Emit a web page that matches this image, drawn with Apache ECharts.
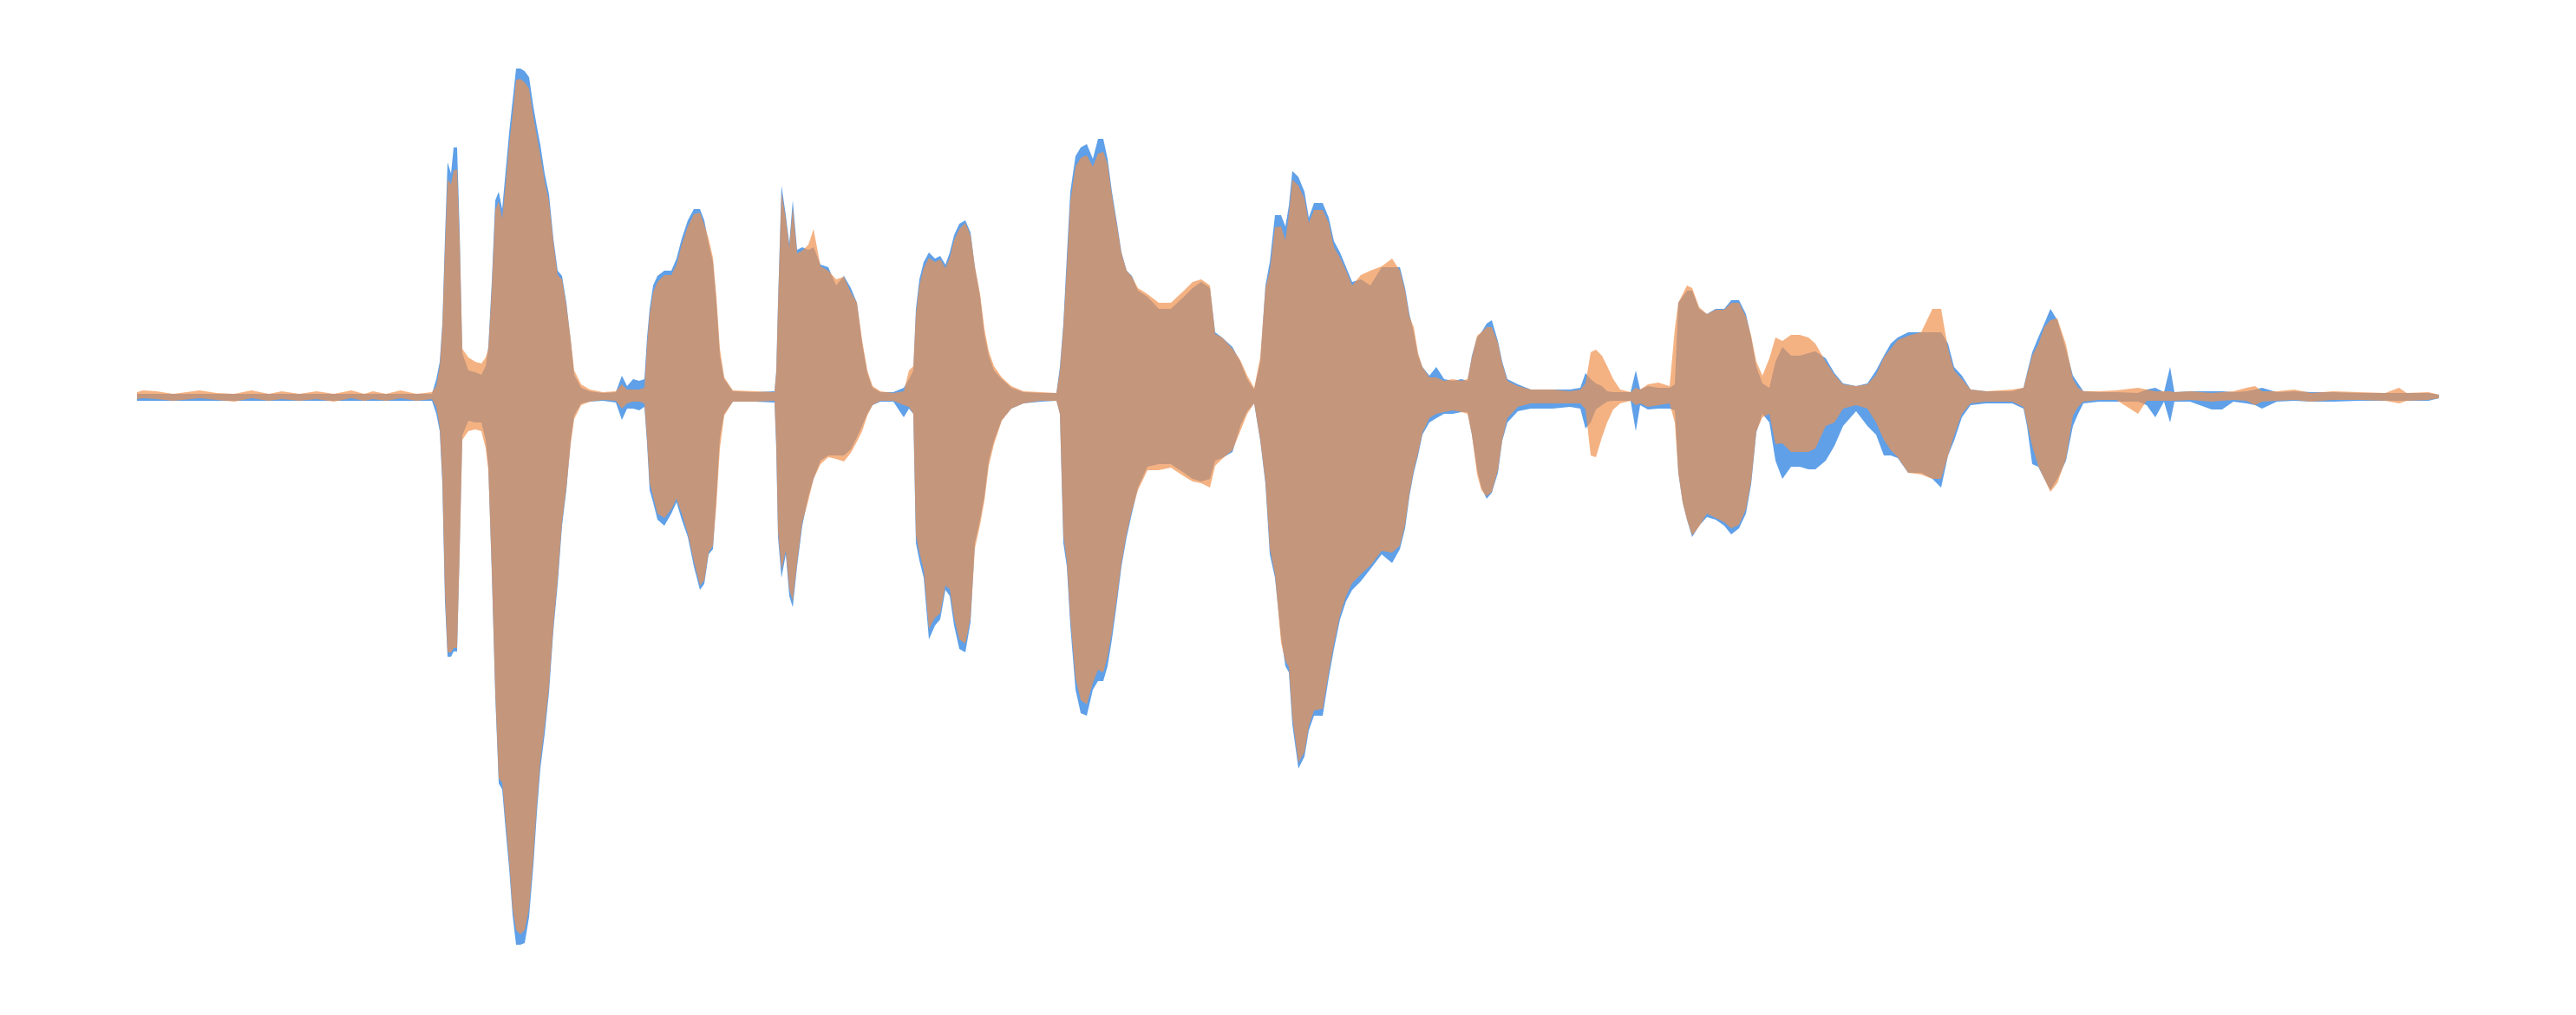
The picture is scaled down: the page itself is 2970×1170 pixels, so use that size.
<!DOCTYPE html>
<html>
<head>
<meta charset="utf-8">
<script src="https://cdn.jsdelivr.net/npm/echarts@6/dist/echarts.min.js"></script>
<style>
html,body{margin:0;padding:0;background:#ffffff;}
#chart{width:2970px;height:1170px;}
</style>
</head>
<body>
<div id="chart"></div>
<script>
// Time positions (frames) of the envelope samples
const frames = [
0,7,22,42,72,92,112,132,152,167,187,207,227,247,262,272,287,304,322,340,
345,349,352,355,358,362,365,369,372,375,382,390,397,402,405,409,413,417,421,425,429,433,437,442,447,452,457,461,465,470,475,480,485,490,495,500,504,512,522,537,552,559,565,572,579,585,
588,591,595,600,608,616,622,628,635,642,649,654,659,664,668,672,677,687,712,735,
737,739,743,748,752,756,761,767,774,780,788,797,806,815,823,830,836,842,848,857,872,884,890,895,
898,902,907,913,920,926,932,937,942,948,955,961,966,972,977,982,988,997,1008,1022,1042,1060,
1064,1068,1072,1076,1082,1088,1095,1102,1108,1114,1119,1124,1130,1135,1141,1147,1154,1165,1178,1192,1207,1217,1227,1237,1243,1251,1263,1272,1280,1288,
1295,1301,1306,1312,1319,1324,1328,1332,1339,1346,1351,1357,1367,1374,1380,1387,1394,1401,1411,1422,1435,1447,1456,1462,1467,1472,1477,1482,1490,1498,1507,1517,1527,1534,
1539,1545,1550,1556,1562,1569,1574,1580,1592,1607,1632,1652,1664,1670,1676,1682,1689,1695,1702,1710,1722,1728,1733,1742,1754,1767,
1773,1777,1782,1787,1793,1801,1810,1820,1830,1838,1847,1855,1861,1867,1874,1882,1889,1897,1907,1917,1927,1935,1947,1957,1967,1982,1995,2005,2014,2022,2030,2042,2057,2070,2080,2088,2095,2104,2114,2132,2162,2175,
2179,2185,2192,2199,2206,2214,2224,2232,2238,2244,2262,2282,2307,2317,2327,2337,2344,2349,2367,2392,2404,2417,2432,2442,2450,2467,2487,2507,2532,2562,2592,2608,2617,2642,2654
];

// Channel 1 (blue) envelope
const blueUpper = [
3,3,3,3,3,3,3,3,3,3,3,3,3,3,3,3,3,3,3,3,
20,40,84,182,270,257,287,287,189,50,30,28,25,35,57,132,226,236,216,260,304,341,378,378,375,368,334,311,290,257,233,182,145,139,108,64,25,10,6,4,5,24,12,20,18,20,
68,101,128,139,145,145,159,182,203,216,216,203,176,155,108,47,20,6,5,6,
30,108,243,209,176,226,169,172,169,172,152,149,128,139,125,108,61,27,10,5,5,10,20,30,
101,135,155,166,159,162,152,166,186,199,203,189,149,115,71,47,30,20,10,5,4,4,
34,84,162,236,277,287,291,274,297,297,274,236,199,166,145,139,122,115,101,101,115,125,132,125,74,68,57,40,20,8,
40,128,155,209,209,196,220,260,253,236,206,223,223,206,179,166,149,132,135,128,149,149,149,125,95,74,47,34,24,34,20,18,20,18,
47,68,74,84,88,64,40,20,14,8,8,8,10,27,20,15,12,6,5,5,5,30,8,12,10,10,
14,108,115,122,122,101,95,101,101,111,111,95,68,34,15,10,40,57,47,47,50,52,44,27,15,12,15,30,47,61,68,74,74,74,74,61,34,24,8,6,6,10,
27,51,68,84,101,88,54,24,15,6,5,5,4,8,10,5,34,5,6,6,6,5,6,8,10,5,6,5,5,4,4,4,4,4,2
];
const blueLower = [
-5,-5,-5,-5,-5,-5,-5,-5,-5,-5,-5,-5,-5,-5,-5,-5,-5,-5,-5,-5,
-20,-40,-101,-236,-300,-300,-294,-294,-176,-45,-28,-30,-30,-50,-81,-203,-345,-446,-453,-500,-544,-598,-632,-632,-630,-600,-540,-480,-429,-389,-341,-270,-216,-149,-108,-51,-22,-8,-6,-5,-7,-27,-14,-14,-16,-12,
-54,-108,-122,-142,-149,-135,-122,-142,-162,-196,-223,-216,-182,-176,-115,-47,-20,-6,-6,-7,
-61,-162,-209,-182,-230,-243,-196,-149,-115,-95,-74,-68,-68,-68,-61,-47,-34,-20,-10,-6,-6,-24,-14,-20,
-169,-189,-209,-280,-264,-257,-223,-230,-264,-291,-295,-260,-169,-142,-115,-74,-51,-27,-14,-8,-6,-5,
-20,-169,-196,-264,-338,-365,-368,-338,-328,-328,-311,-280,-236,-196,-162,-135,-105,-81,-78,-78,-88,-95,-98,-95,-74,-71,-64,-34,-17,-8,
-51,-101,-182,-209,-277,-311,-318,-378,-429,-415,-385,-368,-368,-324,-291,-257,-236,-223,-213,-199,-182,-192,-176,-152,-115,-88,-68,-44,-30,-25,-20,-20,-18,-18,
-44,-84,-105,-118,-111,-88,-51,-30,-17,-14,-14,-12,-14,-37,-30,-15,-10,-6,-5,-5,-5,-40,-10,-15,-14,-14,
-16,-88,-122,-142,-162,-149,-139,-142,-149,-159,-152,-135,-101,-41,-20,-30,-74,-95,-81,-81,-84,-84,-74,-57,-34,-17,-34,-44,-68,-68,-71,-88,-88,-95,-105,-68,-51,-24,-10,-8,-8,-14,
-34,-78,-81,-95,-108,-95,-74,-34,-20,-8,-6,-6,-6,-10,-24,-6,-30,-6,-6,-15,-15,-6,-8,-10,-14,-6,-5,-6,-6,-5,-5,-5,-5,-5,-2
];

// Channel 2 (orange) envelope
const orangeUpper = [
5,7,6,3,7,4,3,7,3,6,3,6,3,7,3,6,3,7,3,5,
12,35,80,170,250,245,260,262,180,55,45,40,38,45,55,125,215,225,205,245,290,325,365,366,362,355,322,300,278,248,225,178,140,135,105,66,30,14,8,5,6,14,8,8,8,10,
60,95,120,132,140,140,152,175,196,210,212,198,182,160,115,55,22,7,6,5,
28,105,235,205,172,218,165,168,175,193,150,145,135,138,120,108,65,30,12,6,4,6,30,35,
95,128,148,160,155,158,148,160,180,193,200,186,150,118,78,52,35,22,12,6,5,4,
30,80,150,225,265,275,278,265,280,282,268,232,196,165,145,138,125,118,108,108,122,132,135,128,72,68,55,42,24,10,
45,125,145,195,196,180,210,250,243,228,200,215,215,200,172,160,145,128,140,145,150,159,145,122,92,80,50,34,22,22,18,20,18,20,
45,70,74,80,80,62,38,18,12,8,8,6,8,15,51,54,47,35,20,8,5,10,8,14,16,12,
78,108,118,128,125,103,95,100,100,108,108,92,70,40,24,44,68,64,71,71,68,61,40,25,14,12,14,25,45,55,65,70,74,101,101,55,30,20,8,6,8,10,
25,47,60,80,88,90,60,20,10,6,6,7,10,8,6,6,6,5,6,4,5,6,10,12,6,6,8,4,6,5,4,10,4,5,2
];
const orangeLower = [
-3,-2,-3,-5,-2,-4,-6,-2,-5,-3,-5,-3,-6,-2,-5,-3,-5,-2,-5,-3,
-12,-35,-95,-225,-295,-295,-290,-290,-180,-50,-40,-38,-40,-60,-85,-200,-340,-440,-445,-490,-535,-590,-615,-620,-615,-590,-530,-470,-420,-380,-335,-265,-210,-145,-105,-55,-26,-10,-6,-4,-5,-14,-8,-6,-6,-8,
-50,-100,-115,-135,-140,-130,-118,-135,-158,-190,-218,-212,-180,-172,-125,-60,-22,-6,-6,-5,
-55,-155,-200,-178,-222,-236,-192,-145,-120,-95,-78,-70,-72,-75,-65,-52,-40,-22,-10,-5,-5,-10,-12,-20,
-160,-180,-200,-268,-255,-250,-218,-222,-255,-280,-285,-255,-175,-148,-120,-80,-55,-28,-14,-8,-5,-5,
-20,-160,-190,-255,-325,-350,-355,-330,-315,-318,-300,-272,-230,-192,-158,-132,-108,-85,-85,-82,-92,-98,-100,-105,-80,-72,-62,-40,-20,-8,
-50,-98,-175,-205,-284,-305,-312,-370,-422,-410,-380,-362,-360,-318,-285,-252,-230,-215,-205,-195,-178,-180,-172,-148,-112,-85,-65,-42,-25,-20,-18,-16,-18,-20,
-44,-90,-108,-115,-110,-85,-50,-25,-12,-8,-8,-8,-8,-15,-68,-70,-47,-30,-15,-8,-5,-10,-8,-12,-10,-8,
-30,-88,-122,-142,-160,-150,-135,-140,-145,-152,-148,-130,-98,-40,-24,-20,-55,-54,-64,-64,-64,-60,-34,-30,-14,-10,-14,-30,-50,-62,-70,-88,-90,-95,-95,-68,-45,-20,-8,-6,-6,-12,
-30,-57,-80,-95,-110,-100,-72,-22,-12,-6,-4,-4,-20,-5,-5,-5,-5,-5,-4,-6,-5,-4,-5,-10,-6,-5,-4,-6,-4,-4,-5,-8,-5,-4,-2
];

const chart = echarts.init(document.getElementById('chart'), null, {renderer: 'canvas'});

function envelopeSeries(name, upper, lower, color, opacity) {
  return {
    type: 'custom',
    name: name,
    silent: true,
    animation: false,
    clip: false,
    data: frames.map(function (f, i) { return [f, upper[i], lower[i]]; }),
    encode: {x: 0, y: [1, 2]},
    renderItem: function (params, api) {
      if (params.dataIndex !== 0) return null;
      const pts = [];
      for (let i = 0; i < frames.length; i++) pts.push(api.coord([frames[i], upper[i]]));
      for (let i = frames.length - 1; i >= 0; i--) pts.push(api.coord([frames[i], lower[i]]));
      return {
        type: 'polygon',
        shape: {points: pts},
        style: {fill: color, opacity: opacity, stroke: null}
      };
    }
  };
}

chart.setOption({
  backgroundColor: '#ffffff',
  animation: false,
  grid: {left: 158, right: 158, top: 0, bottom: 0},
  xAxis: {type: 'value', min: 0, max: 2654, show: false},
  yAxis: {type: 'value', min: -713, max: 457, show: false},
  series: [
    envelopeSeries('Channel 1', blueUpper, blueLower, '#5fa0e8', 1),
    envelopeSeries('Channel 2', orangeUpper, orangeLower, 'rgb(239,145,78)', 0.7)
  ]
});
</script>
</body>
</html>
